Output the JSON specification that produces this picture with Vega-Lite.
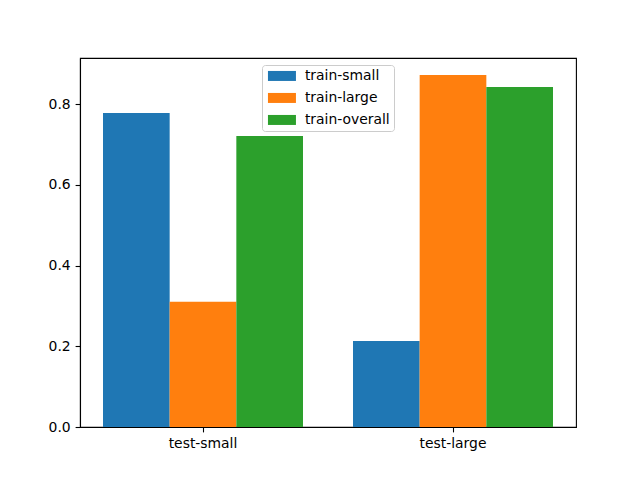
{
  "$schema": "https://vega.github.io/schema/vega-lite/v6.json",
  "width": 496,
  "height": 369,
  "autosize": "none",
  "padding": {"left": 80, "top": 58, "right": 64, "bottom": 53},
  "background": "white",
  "data": {
    "values": [
      {"test": "test-small", "train": "train-small", "score": 0.778},
      {"test": "test-small", "train": "train-large", "score": 0.310},
      {"test": "test-small", "train": "train-overall", "score": 0.721},
      {"test": "test-large", "train": "train-small", "score": 0.213},
      {"test": "test-large", "train": "train-large", "score": 0.872},
      {"test": "test-large", "train": "train-overall", "score": 0.842}
    ]
  },
  "mark": {"type": "bar"},
  "encoding": {
    "x": {
      "field": "test",
      "type": "nominal",
      "sort": ["test-small", "test-large"],
      "scale": {"paddingInner": 0.2, "paddingOuter": 0.092},
      "axis": {"title": null, "labelAngle": 0}
    },
    "xOffset": {
      "field": "train",
      "type": "nominal",
      "sort": ["train-small", "train-large", "train-overall"],
      "scale": {"paddingInner": 0, "paddingOuter": 0}
    },
    "y": {
      "field": "score",
      "type": "quantitative",
      "scale": {"domain": [0, 0.914], "nice": false},
      "axis": {"title": null, "values": [0, 0.2, 0.4, 0.6, 0.8], "format": ".1f"}
    },
    "color": {
      "field": "train",
      "type": "nominal",
      "sort": ["train-small", "train-large", "train-overall"],
      "scale": {"range": ["#1f77b4", "#ff7f0e", "#2ca02c"]},
      "legend": {
        "title": null,
        "orient": "none",
        "legendX": 182,
        "legendY": 7,
        "padding": 4,
        "fillColor": "white",
        "strokeColor": "#cccccc",
        "cornerRadius": 3,
        "symbolType": "M-2.8,-1L2.8,-1L2.8,1L-2.8,1Z",
        "symbolSize": 100,
        "symbolOffset": 9,
        "symbolStrokeWidth": 0,
        "labelOffset": 16,
        "labelFontSize": 13.9,
        "labelFont": "DejaVu Sans",
        "labelColor": "black",
        "rowPadding": 7
      }
    }
  },
  "config": {
    "view": {"stroke": "black", "strokeWidth": 1.1},
    "axis": {
      "domainColor": "black",
      "domainWidth": 1.1,
      "tickColor": "black",
      "tickWidth": 1.1,
      "tickSize": 4.9,
      "labelFont": "DejaVu Sans",
      "labelFontSize": 13.9,
      "labelColor": "black",
      "labelPadding": 4.9,
      "grid": false
    }
  }
}
